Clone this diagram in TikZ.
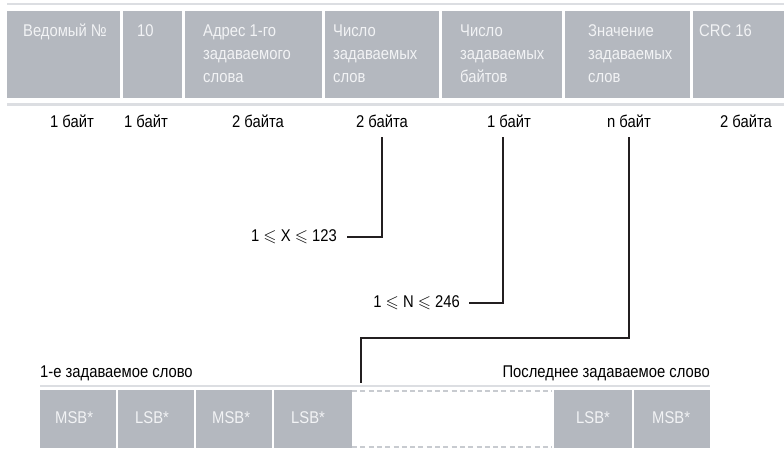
\documentclass[tikz,border=0pt]{standalone}
\usepackage{fontspec}
\usepackage{amssymb}
\setmainfont{Liberation Sans}[FakeStretch=0.87]
\definecolor{boxgray}{HTML}{B4B8BF}
\definecolor{boxtext}{HTML}{F2F3F5}
\definecolor{rulegray}{HTML}{DCDEE2}
\definecolor{dashgray}{HTML}{C8CBD0}
\definecolor{ink}{HTML}{231F20}
\tikzset{
  topbox/.style={fill=boxgray, draw=none, anchor=north west, inner sep=0pt},
  boxtxt/.style={text=boxtext, anchor=base west, inner sep=0pt, align=left,
    font=\fontsize{17}{23}\selectfont},
  lbl/.style={text=black, inner sep=0pt, font=\fontsize{17}{20}\selectfont},
  conn/.style={draw=ink, line width=2pt},
  sep/.style={draw=rulegray, line width=2.5pt},
  dashsep/.style={draw=dashgray, line width=1.5pt, dash pattern=on 5pt off 3.3pt},
}
\begin{document}
\begin{tikzpicture}[x=1pt,y=-1pt]
\useasboundingbox (0,0) rectangle (784,448);
% top rules
\draw[sep] (7,4) -- (784,4);
\draw[sep] (7,104.5) -- (784,104.5);
% top boxes
\node[topbox, minimum width=113pt, minimum height=87pt] (t1) at (7,11) {};
\node[topbox, minimum width=59pt, minimum height=87pt] (t2) at (123,11) {};
\node[topbox, minimum width=137pt, minimum height=87pt] (t3) at (185,11) {};
\node[topbox, minimum width=114pt, minimum height=87pt] (t4) at (325,11) {};
\node[topbox, minimum width=120pt, minimum height=87pt] (t5) at (442,11) {};
\node[topbox, minimum width=125pt, minimum height=87pt] (t6) at (565,11) {};
\node[topbox, minimum width=91pt, minimum height=87pt] (t7) at (693,11) {};
% field texts (multi-line nodes: base anchor = last line)
\node[boxtxt] (f1) at (23,36) {Ведомый №};
\node[boxtxt] (f2) at (137,36) {10};
\node[boxtxt] (f3) at (203,82) {Адрес 1-го\\задаваемого\\слова};
\node[boxtxt] (f4) at (333,82) {Число\\задаваемых\\слов};
\node[boxtxt] (f5) at (460,82) {Число\\задаваемых\\байтов};
\node[boxtxt] (f6) at (588,82) {Значение\\задаваемых\\слов};
\node[boxtxt] (f7) at (699,36) {CRC 16};
% byte labels
\node[lbl, anchor=base] (l1) at (72,127) {1 байт};
\node[lbl, anchor=base] (l2) at (146,127) {1 байт};
\node[lbl, anchor=base] (l3) at (258,127) {2 байта};
\node[lbl, anchor=base] (l4) at (382,127) {2 байта};
\node[lbl, anchor=base] (l5) at (509,127) {1 байт};
\node[lbl, anchor=base] (l6) at (629,127) {n байт};
\node[lbl, anchor=base] (l7) at (746,127) {2 байта};
% range labels
\node[lbl, anchor=east] (x1) at (337,237) {1 $\leqslant$ X $\leqslant$ 123};
\node[lbl, anchor=east] (n1) at (460,303) {1 $\leqslant$ N $\leqslant$ 246};
% connectors
\coordinate (m) at (361,383);
\draw[conn] ([yshift=-10pt]l4.south) |- ([xshift=10pt]x1.east);
\draw[conn] ([xshift=-6pt,yshift=-10pt]l5.south) |- ([xshift=9pt]n1.east);
\draw[conn] ([yshift=-10pt]l6.south) -- ++(0,201) -| (m);
% bottom labels
\node[lbl, anchor=base west] (w1) at (40,377) {1-е задаваемое слово};
\node[lbl, anchor=base east] (wn) at (710,377) {Последнее задаваемое слово};
\draw[sep] (40,385.8) -- (710,385.8);
% bottom boxes
\node[topbox, minimum width=76pt, minimum height=58pt] (b1) at (40,390) {};
\node[topbox, minimum width=76pt, minimum height=58pt] (b2) at (118,390) {};
\node[topbox, minimum width=76pt, minimum height=58pt] (b3) at (196,390) {};
\node[topbox, minimum width=78pt, minimum height=58pt] (b4) at (274,390) {};
\node[topbox, minimum width=78pt, minimum height=58pt] (b5) at (554,390) {};
\node[topbox, minimum width=76pt, minimum height=58pt] (b6) at (634,390) {};
\draw[dashsep] (352,391) -- (552,391);
\draw[dashsep] (352,447) -- (552,447);
\node[boxtxt] (s1) at (55,423) {MSB*};
\node[boxtxt] (s2) at (135,423) {LSB*};
\node[boxtxt] (s3) at (212,423) {MSB*};
\node[boxtxt] (s4) at (291,423) {LSB*};
\node[boxtxt] (s5) at (576,423) {LSB*};
\node[boxtxt] (s6) at (652,423) {MSB*};
\end{tikzpicture}
\end{document}
